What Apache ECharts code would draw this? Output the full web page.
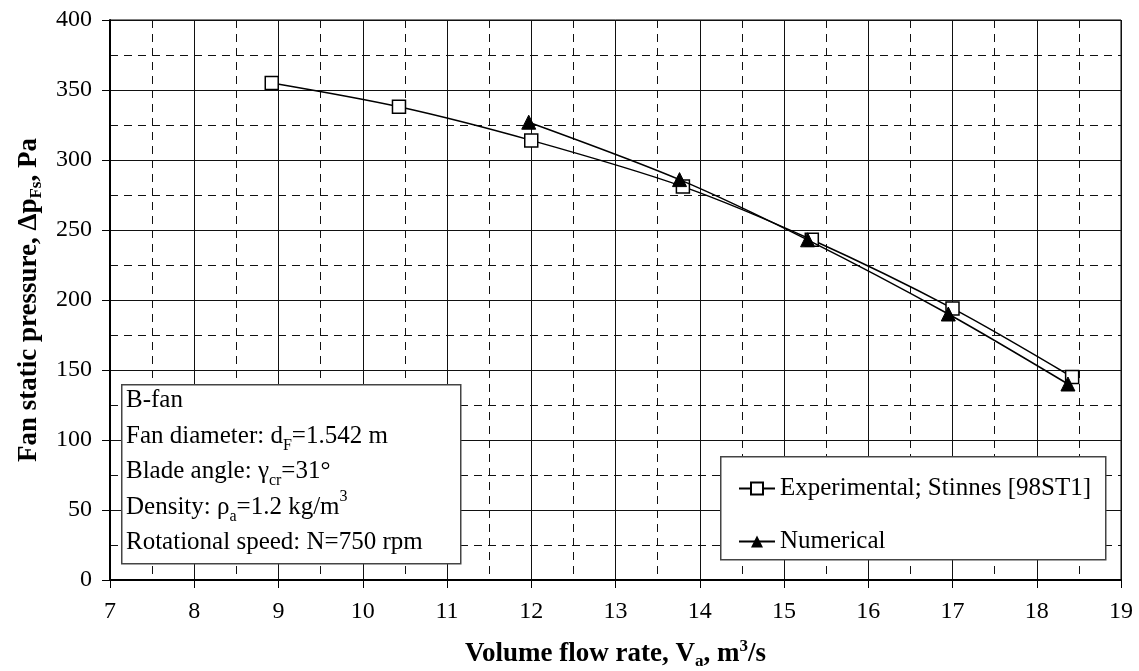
<!DOCTYPE html>
<html>
<head>
<meta charset="utf-8">
<script src="https://cdn.jsdelivr.net/npm/echarts@6/dist/echarts.min.js"></script>
<style>
  html, body { margin: 0; padding: 0; background: #fff; }
  #chart { width: 1139px; height: 671px; }
</style>
</head>
<body>
<div id="chart"></div>
<script>
// experimental points (Stinnes)
const expFlow = [8.92, 10.43, 12.0, 13.8, 15.33, 17.0, 18.42]
const expPressure = [355, 338, 314, 281, 243, 194, 145]
// numerical results
const numFlow = [11.97, 13.76, 15.28, 16.95, 18.37]
const numPressure = [327, 286, 243, 190, 140]

const serif = '"Liberation Serif", "Times New Roman", serif'

const chart = echarts.init(document.getElementById('chart'))

const subStyle = { fontFamily: serif, fontSize: 16, lineHeight: 22, verticalAlign: 'bottom' }
const supStyle = { fontFamily: serif, fontSize: 16, lineHeight: 16, verticalAlign: 'top' }
const txt = { fontFamily: serif, fontSize: 25, lineHeight: 35.5 }

const titleRich = {
  b: { fontFamily: serif, fontSize: 27, fontWeight: 'bold', lineHeight: 32, color: '#000' },
  bs: { fontFamily: serif, fontSize: 17, fontWeight: 'bold', lineHeight: 22, verticalAlign: 'bottom', color: '#000' },
  bp: { fontFamily: serif, fontSize: 17, fontWeight: 'bold', lineHeight: 16, verticalAlign: 'top', color: '#000' }
}

const option = {
  backgroundColor: '#fff',
  animation: false,
  grid: {
    left: 110, right: 18, top: 20, bottom: 91,
    outerBoundsMode: 'none',
    containLabel: false,
    show: true, borderColor: '#000', borderWidth: 1
  },
  xAxis: {
    type: 'value', min: 7, max: 19, interval: 1,
    name: '{b|Volume flow rate, V}{bs|a}{b|, m}{bp|3}{b|/s}',
    nameLocation: 'middle', nameGap: 58,
    nameTextStyle: { rich: titleRich },
    axisLine: { lineStyle: { color: '#000', width: 2 } },
    axisTick: { inside: false, length: 8, lineStyle: { color: '#000' } },
    minorTick: { show: false, splitNumber: 2 },
    axisLabel: { color: '#000', fontFamily: serif, fontSize: 24, margin: 20 },
    splitLine: { show: true, lineStyle: { color: '#111', width: 1 } },
    minorSplitLine: { show: true, lineStyle: { color: '#111', width: 1, type: [8, 6] } }
  },
  yAxis: {
    type: 'value', min: 0, max: 400, interval: 50,
    name: '{b|Fan static pressure, Δp}{bs|Fs}{b|, Pa}',
    nameLocation: 'middle', nameGap: 64, nameRotate: 90,
    nameTextStyle: { rich: titleRich },
    axisLine: { show: true, lineStyle: { color: '#000', width: 2 } },
    axisTick: { show: true, inside: false, length: 8, lineStyle: { color: '#000' } },
    minorTick: { show: false, splitNumber: 2 },
    axisLabel: { color: '#000', fontFamily: serif, fontSize: 24, margin: 18 },
    splitLine: { show: true, lineStyle: { color: '#111', width: 1 } },
    minorSplitLine: { show: true, lineStyle: { color: '#111', width: 1, type: [8, 6] } }
  },
  legend: {
    left: 733, top: 471, orient: 'vertical',
    itemWidth: 36, itemHeight: 15, itemGap: 28,
    textStyle: { color: '#000', fontFamily: serif, fontSize: 25, lineHeight: 24 },
    data: ['Experimental; Stinnes [98ST1]', 'Numerical'],
    z: 20
  },
  graphic: [
    {
      type: 'rect', left: 720, top: 456, z: 10,
      shape: { width: 385, height: 103 },
      style: { fill: '#fff', stroke: '#444', lineWidth: 1.5 }
    },
    {
      type: 'rect', left: 121, top: 384, z: 10,
      shape: { width: 339, height: 179 },
      style: { fill: '#fff', stroke: '#444', lineWidth: 1.5 }
    },
    {
      type: 'text', left: 126, top: 388, z: 11,
      style: {
        text: [
          '{t|B-fan}',
          '{t|Fan diameter: d}{s|F}{t|=1.542 m}',
          '{t|Blade angle: γ}{s|cr}{t|=31°}',
          '{t|Density: ρ}{s|a}{t|=1.2 kg/m}{p|3}',
          '{t|Rotational speed: N=750 rpm}'
        ].join('\n'),
        fill: '#000',
        rich: { t: txt, s: subStyle, p: supStyle }
      }
    }
  ],
  series: [
    {
      name: 'Experimental; Stinnes [98ST1]',
      type: 'line',
      data: expFlow.map((x, i) => [x, expPressure[i]]),
      smooth: 0.3,
      symbol: 'rect', symbolSize: 13,
      lineStyle: { color: '#000', width: 1.5 },
      itemStyle: { color: '#fff', borderColor: '#000', borderWidth: 1.5 },
      z: 3
    },
    {
      name: 'Numerical',
      type: 'line',
      data: numFlow.map((x, i) => [x, numPressure[i]]),
      smooth: 0.3,
      symbol: 'triangle', symbolSize: 14,
      lineStyle: { color: '#000', width: 1.5 },
      itemStyle: { color: '#000', borderColor: '#000' },
      z: 4
    }
  ]
}

chart.setOption(option)
</script>
</body>
</html>
